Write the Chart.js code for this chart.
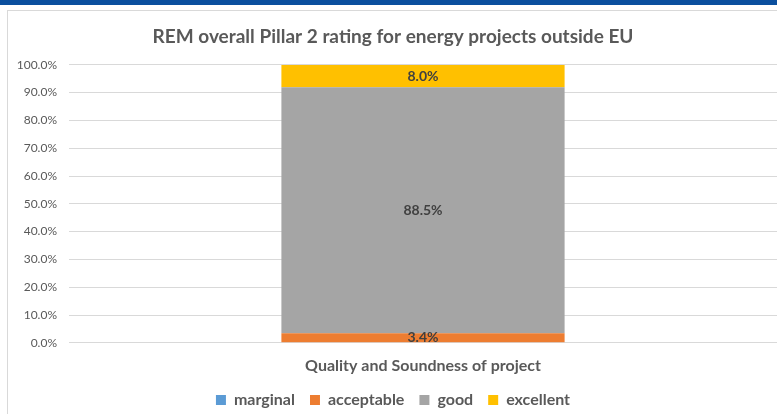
<!DOCTYPE html>
<html>
<head>
<meta charset="utf-8">
<script src="https://cdn.jsdelivr.net/npm/chart.js@4"></script>
<style>
  html, body { margin: 0; padding: 0; background: #ffffff; width: 777px; height: 414px; overflow: hidden; }
  #bar { position: absolute; left: 0; top: 0; width: 777px; height: 5px; background: #0b4f9e; }
  #panel { position: absolute; left: 7px; top: 10px; width: 770px; height: 404px;
           border-left: 1px solid #d9d9d9; border-top: 1px solid #d9d9d9; box-sizing: border-box; }
  #wrap { position: absolute; left: 1px; top: 1px; width: 768px; height: 406px; }
</style>
</head>
<body>
<div id="bar"></div>
<div id="panel"><div id="wrap"><canvas id="c"></canvas></div></div>
<script>
const categories = ['Quality and Soundness of project'];
const seriesNames = ['marginal', 'acceptable', 'good', 'excellent'];
const marginal = [0.0];
const acceptable = [3.4];
const good = [88.5];
const excellent = [8.0];
const yTicks = [0, 10, 20, 30, 40, 50, 60, 70, 80, 90, 100];

const colors = ['#5b9bd5', '#ed7d31', '#a5a5a5', '#ffc000'];
const FONT = 'Lato, "Liberation Sans", sans-serif';
const TEXT = '#595959';

// value labels drawn in the middle of each stacked segment
const segmentLabels = {
  id: 'segmentLabels',
  afterDatasetsDraw(chart) {
    const ctx = chart.ctx;
    ctx.save();
    ctx.font = 'bold 14px ' + FONT;
    ctx.fillStyle = '#404040';
    ctx.textAlign = 'center';
    ctx.textBaseline = 'middle';
    chart.data.datasets.forEach((ds, i) => {
      const meta = chart.getDatasetMeta(i);
      meta.data.forEach((el, j) => {
        const v = ds.data[j];
        if (!v) return;
        const mid = (el.y + el.base) / 2;
        ctx.fillText(v.toFixed(1) + '%', el.x, mid);
      });
    });
    ctx.restore();
  }
};

new Chart(document.getElementById('c'), {
  type: 'bar',
  data: {
    labels: categories,
    datasets: [marginal, acceptable, good, excellent].map((d, i) => ({
      label: seriesNames[i],
      data: d,
      backgroundColor: colors[i],
      borderWidth: 0,
      categoryPercentage: 1.0,
      barPercentage: 0.4
    }))
  },
  options: {
    responsive: true,
    maintainAspectRatio: false,
    animation: false,
    layout: { padding: { left: 0, right: 0, top: 4, bottom: 0 } },
    plugins: {
      title: {
        display: true,
        text: 'REM overall Pillar 2 rating for energy projects outside EU',
        color: TEXT,
        font: { family: FONT, size: 19, weight: 'bold' },
        padding: { top: 9, bottom: 17 }
      },
      legend: {
        position: 'bottom',
        labels: {
          color: TEXT,
          font: { family: FONT, size: 16, weight: 'bold' },
          boxWidth: 10, boxHeight: 10, padding: 15
        }
      },
      tooltip: { enabled: false }
    },
    scales: {
      x: {
        stacked: true,
        grid: { display: false, drawTicks: false },
        border: { display: false },
        ticks: { display: false },
        // the single category name is shown as the axis caption under the bar
        title: {
          display: true,
          text: categories[0],
          color: TEXT,
          font: { family: FONT, size: 16, weight: 'bold' },
          padding: { top: 13, bottom: 2 }
        }
      },
      y: {
        stacked: true,
        min: 0, max: 100,
        afterBuildTicks(scale) { scale.ticks = yTicks.map(v => ({ value: v })); },
        afterFit(scale) { scale.width = 60; },
        grid: { color: '#d9d9d9', drawTicks: false },
        border: { display: false },
        ticks: {
          color: TEXT, padding: 12,
          font: { family: FONT, size: 12 },
          callback: v => v.toFixed(1) + '%'
        }
      }
    }
  },
  plugins: [segmentLabels]
});
</script>
</body>
</html>
